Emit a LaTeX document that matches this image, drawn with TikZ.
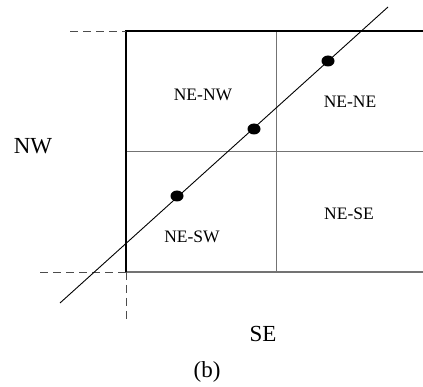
\documentclass[tikz,border=0pt]{standalone}
\usepackage{fontspec}
\setmainfont{Liberation Serif}
\usetikzlibrary{shapes.geometric}
\begin{document}
\begin{tikzpicture}[x=1pt,y=-1pt,
  outer/.style={line width=1.6pt,black},
  grid/.style={line width=0.9pt,black!55},
  dashline/.style={line width=0.9pt,black!70,dash pattern=on 8pt off 5pt},
  diag/.style={line width=0.9pt,black},
  pt/.style={fill=black,draw=none,shape=ellipse,minimum width=13pt,minimum height=11pt,inner sep=0pt},
  small/.style={font=\fontsize{17.5}{19}\selectfont},
  big/.style={font=\fontsize{23}{25}\selectfont}]
\useasboundingbox (0,0) rectangle (423,387);
% coordinates
\coordinate (tl) at (126,31);
\coordinate (tr) at (423,31);
\coordinate (bl) at (126,272);
\coordinate (br) at (423,272);
\coordinate (mt) at (276,31);
\coordinate (mb) at (276,272);
\coordinate (ml) at (126,151);
\coordinate (mr) at (423,151);
\coordinate (dtl) at (70,31);
\coordinate (dbl) at (40,272);
\coordinate (dbb) at (126,321);
\coordinate (d0) at (60,303);
\coordinate (d1) at (388,7);
% grid
\draw[grid] (mt) -- (mb);
\draw[grid] (ml) -- (mr);
\draw[grid,line width=1.4pt] (bl) -- (br);
\draw[outer] (tr) -- (tl) -- (bl);
% dashed
\draw[dashline] (dtl) -- (tl);
\draw[dashline] (dbl) -- (bl);
\draw[dashline] (bl) -- (dbb);
% diagonal
\draw[diag] (d0) -- (d1);
\node[pt] (p1) at (328,61) {};
\node[pt] (p2) at (254,129) {};
\node[pt] (p3) at (177,196) {};
% labels
\node[small] (nenw) at (203,95) {NE-NW};
\node[small] (nene) at (350,102) {NE-NE};
\node[small] (nesw) at (192,237) {NE-SW};
\node[small] (nese) at (349,214) {NE-SE};
\node[big] (nw) at (33,146) {NW};
\node[big] (se) at (263,334) {SE};
\node[big] (b) at (207,372) {(b)};
\end{tikzpicture}
\end{document}
